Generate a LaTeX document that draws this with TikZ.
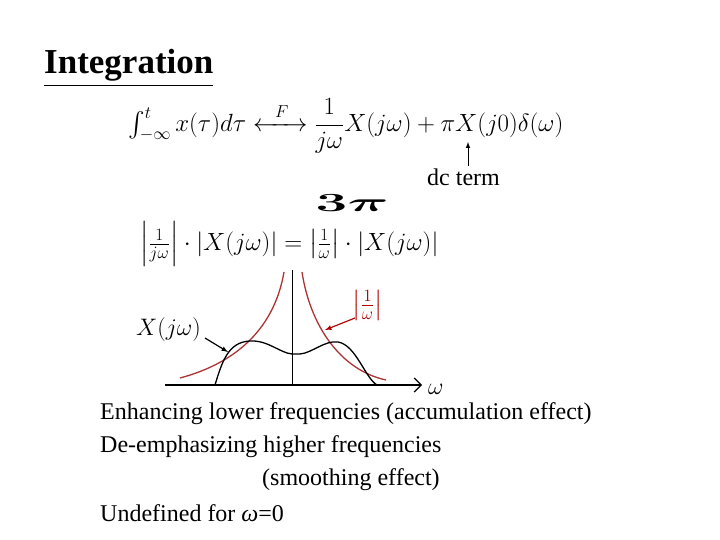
\documentclass[tikz,border=0pt]{standalone}
\usepackage{fontspec}
\setmainfont{Liberation Serif}
\usepackage{amsmath,mathtools}
\usetikzlibrary{arrows.meta}
\begin{document}
\begin{tikzpicture}[x=1pt,y=-1pt,
 txt/.style={anchor=west,inner sep=0pt,font=\fontsize{24}{28}\selectfont},
 crv/.style={line width=1.3pt},
 redc/.style={crv,draw=red!60!black!80!white},
 ax/.style={line width=1.2pt}]
\useasboundingbox (0,0) rectangle (720,540);
\node[anchor=west,inner sep=0pt,font=\fontsize{35}{38}\selectfont\bfseries] (title) at (44,68) {\underline{Integration}};
\node[anchor=west,inner sep=0pt,font=\fontsize{23}{28}\selectfont] (eq) at (128,126)
 {$\int_{-\infty}^{t} x(\tau)d\tau \xleftrightarrow{\hspace{0.6em}F\hspace{0.6em}} \dfrac{1}{j\omega}X(j\omega)+\pi X(j0)\delta(\omega)$};
\node[txt] (dc) at (427,177) {dc term};
\coordinate (dctop) at (468,142);
\draw[-latex,line width=1pt] (468,166) -- (dctop);
\node[inner sep=0pt,font=\fontsize{34}{36}\selectfont\bfseries] (pi3) at (352,203) {\scalebox{2.3}[1.05]{$\boldsymbol{3\pi}$}};
\node[anchor=west,inner sep=0pt,font=\fontsize{23}{28}\selectfont] (mag) at (140,244)
 {$\left|\frac{1}{j\omega}\right|\cdot|X(j\omega)| = \left|\frac{1}{\omega}\right|\cdot|X(j\omega)|$};
% axes
\coordinate (a0) at (165,385); \coordinate (a1) at (422,385);
\draw[ax,-{Straight Barb[length=7pt]}] (a0) -- (a1);
\coordinate (v0) at (292,270); \coordinate (v1) at (292,385);
\draw[line width=1pt] (v0) -- (v1);
\node[anchor=west,inner sep=0pt,font=\fontsize{22}{24}\selectfont] (w) at (428,389) {\scalebox{1.15}{$\omega$}};
% red curves
\draw[redc] (180,378) .. controls (240,362) and (275,325) .. (284,272);
\draw[redc] (302,272) .. controls (310,325) and (340,370) .. (386,380);
% black curve
\draw[crv] (215,385) .. controls (222,362) and (228,342) .. (250,341)
 .. controls (268,340) and (280,353) .. (292,354) -- (300,354)
 .. controls (312,353) and (325,340) .. (338,342)
 .. controls (356,345) and (365,378) .. (377,385);
\node[anchor=west,inner sep=0pt,font=\fontsize{22}{24}\selectfont] (xl) at (136,330) {\scalebox{1.15}{$X(j\omega)$}};
\coordinate (xt) at (228,352);
\draw[-latex,line width=1.2pt] (205,338) -- (xt);
\node[anchor=west,inner sep=0pt,font=\fontsize{22}{24}\selectfont,text=red!70!black] (wl) at (352,305) {\scalebox{1.2}{$\left|\frac{1}{\omega}\right|$}};
\coordinate (wt) at (325,330);
\draw[-latex,line width=1.2pt,red!70!black] (355,318) -- (wt);
% text
\node[txt] (t1) at (100,414) {Enhancing lower frequencies (accumulation effect)};
\node[txt] (t2) at (100,447) {De-emphasizing higher frequencies};
\node[txt] (t3) at (262,480) {(smoothing effect)};
\node[txt] (t4) at (100,513) {Undefined for \emph{ω}=0};
\end{tikzpicture}
\end{document}
